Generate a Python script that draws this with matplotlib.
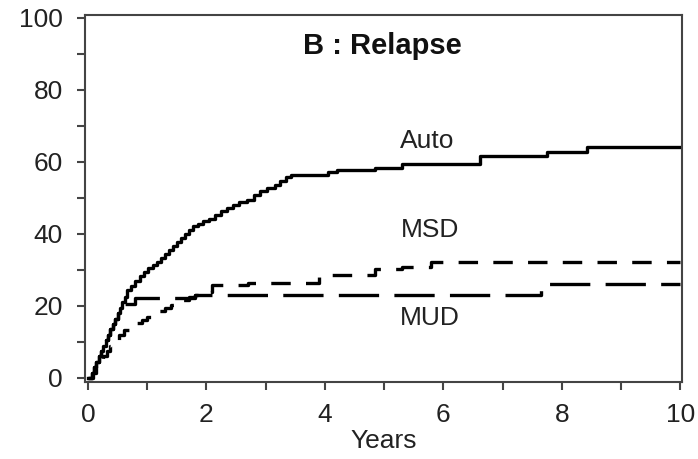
import matplotlib
matplotlib.use("Agg")
import matplotlib.pyplot as plt
from matplotlib.ticker import MultipleLocator

plt.rcParams['font.family'] = ['Liberation Sans', 'DejaVu Sans']
plt.rcParams['lines.scale_dashes'] = False

# Cumulative incidence of relapse (%) vs years
auto_x = [0, 0.06, 0.1, 0.14, 0.18, 0.22, 0.26, 0.3, 0.34, 0.38, 0.42, 0.46, 0.5,
          0.54, 0.58, 0.62, 0.66, 0.72, 0.8, 0.88, 0.95, 1.02, 1.1, 1.17, 1.24,
          1.3, 1.37, 1.44, 1.5, 1.57, 1.63, 1.7, 1.77, 1.85, 1.95, 2.05, 2.15,
          2.25, 2.35, 2.45, 2.55, 2.68, 2.8, 2.9, 3.02, 3.15, 3.25, 3.35, 3.42,
          4.05, 4.2, 4.85, 5.3, 6.62, 7.75, 8.42, 10]
auto_y = [0, 1.5, 3, 4.5, 6, 7.5, 9, 10.5, 12, 13.5, 15, 16.5, 18, 19.5, 21, 22.5,
          24.5, 25.6, 27, 28.3, 29.5, 30.5, 31.3, 32.3, 33.4, 34.5, 35.6, 36.7,
          37.7, 38.8, 40, 41.2, 42.1, 42.8, 43.5, 44.3, 45.2, 46.3, 47.3, 48,
          48.8, 49.5, 50.8, 52, 52.8, 53.7, 54.8, 55.7, 56.3, 57.3, 57.8, 58.3,
          59.5, 61.8, 62.8, 64.2, 64.2]

msd_x = [0, 0.08, 0.14, 0.2, 0.26, 0.32, 0.38, 0.45, 0.52, 0.6, 0.72, 0.82, 0.92,
         1.0, 1.1, 1.2, 1.3, 1.4, 1.5, 1.6, 1.7, 1.8, 1.95, 2.1, 2.7, 3.9, 4.85,
         5.3, 5.8, 10]
msd_y = [0, 1.5, 3, 4.5, 6, 7.5, 9, 10.5, 12, 13.3, 14.2, 15.2, 16.2, 17, 17.8,
         18.6, 19.5, 20.3, 21, 21.8, 22.5, 23, 23.8, 25.8, 26.5, 28.6, 30.2, 30.8,
         32.2, 32.2]

mud_x = [0, 0.06, 0.1, 0.14, 0.18, 0.22, 0.26, 0.3, 0.34, 0.38, 0.42, 0.46, 0.5,
         0.54, 0.6, 0.8, 1.8, 7.65, 10]
mud_y = [0, 1.5, 3, 4.5, 6, 7.5, 9, 10.5, 12, 13.5, 15, 16.5, 18, 19.3, 20.6,
         22.3, 23, 26, 26]

labels = {"Auto": (5.73, 65.8), "MSD": (5.78, 41.1), "MUD": (5.78, 16.7)}

fig = plt.figure(figsize=(6.98, 4.59), dpi=100)
ax = fig.add_axes([0.1218, 0.1684, 0.977 - 0.1218, 0.9684 - 0.1684])

ax.step(auto_x, auto_y, where='post', color='black', lw=2.4)
ax.step(msd_x, msd_y, where='post', color='black', lw=2.4, dashes=(14, 11))
ax.step(mud_x, mud_y, where='post', color='black', lw=2.4, dashes=(29, 11))

ax.set_xlim(-0.05, 10.03)
ax.set_ylim(-1.03, 100.97)
ax.xaxis.set_major_locator(MultipleLocator(2))
ax.xaxis.set_minor_locator(MultipleLocator(1))
ax.yaxis.set_major_locator(MultipleLocator(20))
ax.yaxis.set_minor_locator(MultipleLocator(10))

spine_c = '#444444'
for s in ax.spines.values():
    s.set_color(spine_c)
    s.set_linewidth(1.5)
ax.tick_params(which='both', direction='out', length=6, width=1.5, color=spine_c,
               labelsize=19, labelcolor='#222222')
ax.tick_params(axis='x', which='both', pad=9)
ax.tick_params(axis='y', which='both', pad=10)

ax.set_xlabel('Years', fontsize=19, color='#222222', labelpad=2)

ax.text(4.97, 92.2, 'B : Relapse', fontsize=21, fontweight='bold', ha='center',
        va='center', color='#111111')
for name, (lx, ly) in labels.items():
    ax.text(lx, ly, name, fontsize=19, ha='center', va='center', color='#222222')

fig.savefig('out.png', dpi=100)
